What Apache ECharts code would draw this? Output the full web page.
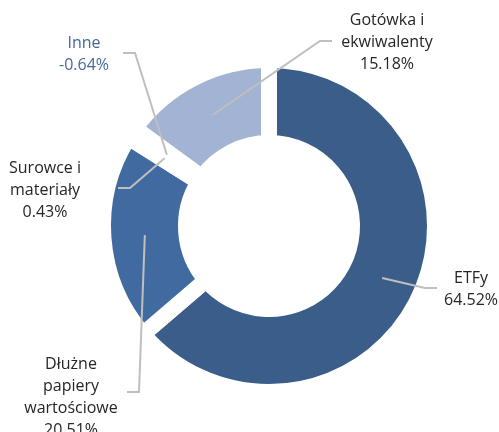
<!DOCTYPE html>
<html>
<head>
<meta charset="utf-8">
<style>
  html, body { margin: 0; padding: 0; background: #fff; }
  #chart { width: 499px; height: 432px; }
</style>
<script src="https://cdn.jsdelivr.net/npm/echarts@6/dist/echarts.min.js"></script>
</head>
<body>
<div id="chart"></div>
<script>
const categories = ['ETFy', 'Dłużne\npapiery\nwartościowe', 'Surowce i\nmateriały', 'Inne', 'Gotówka i\nekwiwalenty']
const shares = [64.52, 20.51, 0.43, -0.64, 15.18]

const colors = ['#3a5d89', '#416ba0', '#416ba0', '#416ba0', '#a2b3d4']
const labelColors = ['#262626', '#262626', '#262626', '#44699a', '#262626']
// label centre and end of the leader line, in px
const labelPos = [[471, 289], [71, 397], [45, 190], [84, 54], [387, 42]]
const lineEnd = [[437, 288], [127, 392], [118, 188], [123, 53], [332, 41]]

const chart = echarts.init(document.getElementById('chart'))

// like excel, a negative share is drawn by its size
const sliceData = categories.map((name, i) => ({
  name: name,
  value: Math.abs(shares[i]),
  itemStyle: { color: colors[i] }
}))
const labelData = categories.map((name, i) => ({
  name: name,
  value: Math.abs(shares[i]),
  label: { color: labelColors[i] }
}))

function layoutLabel(params) {
  const i = params.dataIndex
  const lay = chart.getModel().getSeriesByIndex(params.seriesIndex).getData().getItemLayout(i)
  const mid = (lay.startAngle + lay.endAngle) / 2
  const r = (lay.r + lay.r0) / 2
  const start = [lay.cx + r * Math.cos(mid), lay.cy + r * Math.sin(mid)]
  const end = lineEnd[i]
  const side = end[0] > lay.cx ? -1 : 1
  const bend = [end[0] + side * 12, end[1]]
  return {
    x: labelPos[i][0],
    y: labelPos[i][1],
    align: 'center',
    verticalAlign: 'middle',
    labelLinePoints: [start, bend, end]
  }
}

const pieBase = {
  type: 'pie',
  center: [269, 226],
  radius: [83, 166],
  startAngle: 90,
  clockwise: true,
  avoidLabelOverlap: false,
  silent: true,
  emphasis: { disabled: true }
}

chart.setOption({
  animation: false,
  series: [
    Object.assign({}, pieBase, {
      z: 2,
      itemStyle: {
        borderColor: '#ffffff',
        borderWidth: 16
      },
      label: { show: false },
      labelLine: { show: false },
      data: sliceData
    }),
    // same slices, transparent, only to carry labels and leader lines above the ring
    Object.assign({}, pieBase, {
      z: 3,
      itemStyle: { color: 'rgba(0,0,0,0)', borderWidth: 0 },
      label: {
        show: true,
        position: 'outside',
        fontFamily: 'Open Sans',
        fontSize: 16,
        lineHeight: 22,
        align: 'center',
        formatter: (p) => p.name + '\n' + shares[p.dataIndex].toFixed(2) + '%'
      },
      labelLine: {
        show: true,
        smooth: false,
        lineStyle: { color: '#bfbfbf', width: 2 }
      },
      labelLayout: layoutLabel,
      data: labelData
    })
  ]
})
</script>
</body>
</html>
